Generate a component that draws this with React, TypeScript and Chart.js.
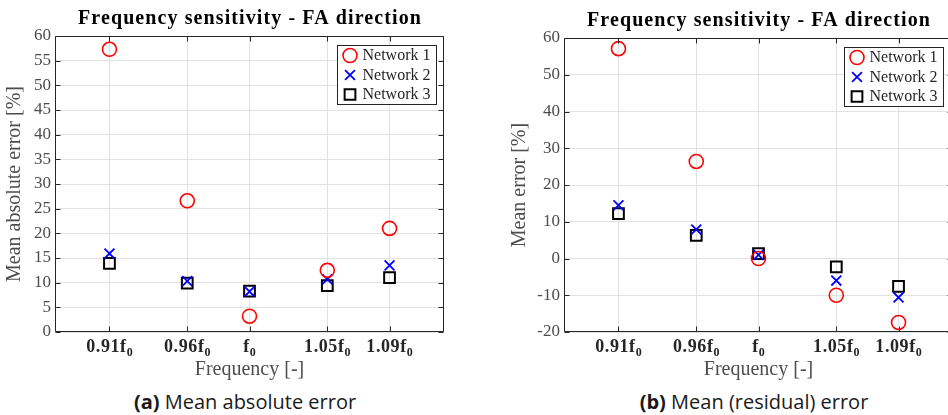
import React, { useEffect, useRef } from 'react';
import { Chart, registerables } from 'chart.js';

Chart.register(...registerables);

// ---------- data ----------
const freqs = [0.91, 0.96, 1.0, 1.05, 1.09];
const freqPrefixes = ['0.91', '0.96', '', '1.05', '1.09'];
const seriesNames = ['Network 1', 'Network 2', 'Network 3'];

const maeNet1 = [57.3, 26.6, 3.2, 12.5, 21.0];
const maeNet2 = [15.9, 10.3, 8.2, 10.7, 13.5];
const maeNet3 = [13.9, 9.9, 8.3, 9.4, 11.0];

const meNet1 = [57.1, 26.4, 0.0, -10.0, -17.4];
const meNet2 = [14.5, 7.9, 1.0, -6.0, -10.6];
const meNet3 = [12.2, 6.3, 1.3, -2.3, -7.6];

const maeYRange = [0, 60];
const maeYStep = 5;
const meYRange = [-20, 60];
const meYStep = 10;
const xRange = [0.875, 1.125];

const chartTitle = 'Frequency sensitivity - FA direction';
const xTitle = 'Frequency [-]';

// ---------- styles ----------
const SERIF = '"Liberation Serif", "Times New Roman", serif';
const SANS = '"Open Sans", "Noto Sans", sans-serif';
const GRID = '#e2e2e2';
const AXIS = '#262626';
const TXT = '#4d4d4d';

const markerStyles = [
  { pointStyle: 'circle', color: '#ff0000', radius: 7, width: 1.6 },
  { pointStyle: 'crossRot', color: '#0000ff', radius: 7, width: 1.8 },
  { pointStyle: 'rect', color: '#000000', radius: 7.6, width: 2 },
];

function drawMarker(ctx: CanvasRenderingContext2D, style: any, x: number, y: number) {
  ctx.save();
  ctx.strokeStyle = style.color;
  ctx.lineWidth = style.width;
  ctx.beginPath();
  if (style.pointStyle === 'circle') {
    ctx.arc(x, y, style.radius, 0, Math.PI * 2);
  } else if (style.pointStyle === 'crossRot') {
    const o = style.radius * Math.SQRT1_2;
    ctx.moveTo(x - o, y - o);
    ctx.lineTo(x + o, y + o);
    ctx.moveTo(x - o, y + o);
    ctx.lineTo(x + o, y - o);
  } else {
    const s = style.radius * Math.SQRT1_2;
    ctx.rect(x - s, y - s, 2 * s, 2 * s);
  }
  ctx.stroke();
  ctx.restore();
}

const decorPlugin = {
  id: 'decor',
  afterDraw(chart: any) {
    const { ctx, chartArea: a, scales } = chart;
    const opts = chart.options.plugins.decor;
    const L = Math.round(a.left) + 0.5;
    const R = Math.round(a.right) - 0.5;
    const T = Math.round(a.top) + 0.5;
    const B = Math.round(a.bottom) - 0.5;
    ctx.save();

    // axes box
    ctx.strokeStyle = AXIS;
    ctx.lineWidth = 1;
    ctx.beginPath();
    ctx.moveTo(L, T);
    ctx.lineTo(R, T);
    ctx.lineTo(R, B);
    ctx.lineTo(L, B);
    ctx.closePath();
    ctx.stroke();

    // inward ticks
    const tl = 5;
    ctx.beginPath();
    freqs.forEach((v) => {
      const px = Math.round(scales.x.getPixelForValue(v)) + 0.5;
      ctx.moveTo(px, B);
      ctx.lineTo(px, B - tl);
      ctx.moveTo(px, T);
      ctx.lineTo(px, T + tl);
    });
    scales.y.ticks.forEach((t: any) => {
      const py = Math.round(scales.y.getPixelForValue(t.value)) + 0.5;
      ctx.moveTo(L, py);
      ctx.lineTo(L + tl, py);
      ctx.moveTo(R, py);
      ctx.lineTo(R - tl, py);
    });
    ctx.stroke();

    // x tick labels with subscript
    ctx.fillStyle = '#262626';
    ctx.textBaseline = 'alphabetic';
    ctx.textAlign = 'left';
    const mainFont = `bold 18px ${SERIF}`;
    const subFont = `bold 12px ${SERIF}`;
    freqs.forEach((v, i) => {
      const px = scales.x.getPixelForValue(v);
      const main = freqPrefixes[i] + 'f';
      ctx.font = mainFont;
      (ctx as any).letterSpacing = '0.6px';
      const w1 = ctx.measureText(main).width;
      ctx.font = subFont;
      (ctx as any).letterSpacing = '0px';
      const w2 = ctx.measureText('0').width;
      const start = px - (w1 + w2) / 2;
      const base = a.bottom + 20;
      ctx.font = mainFont;
      (ctx as any).letterSpacing = '0.6px';
      ctx.fillText(main, start, base);
      ctx.font = subFont;
      (ctx as any).letterSpacing = '0px';
      ctx.fillText('0', start + w1, base + 4);
    });

    // title
    ctx.fillStyle = '#000000';
    ctx.font = `bold 20px ${SERIF}`;
    (ctx as any).letterSpacing = '1.1px';
    ctx.textAlign = 'center';
    ctx.textBaseline = 'middle';
    ctx.fillText(chartTitle, (a.left + a.right) / 2 + 0.5, a.top - 17);
    (ctx as any).letterSpacing = '0px';

    // legend
    ctx.font = `16px ${SERIF}`;
    ctx.textAlign = 'left';
    ctx.textBaseline = 'middle';
    const maxW = Math.max(...seriesNames.map((n) => ctx.measureText(n).width));
    const boxW = Math.round(25 + maxW + 6);
    const boxH = 59;
    const bx = Math.round(a.right - opts.legendInset - boxW) + 0.5;
    const by = Math.round(a.top + 9) + 0.5;
    ctx.fillStyle = '#ffffff';
    ctx.fillRect(bx, by, boxW, boxH);
    ctx.strokeStyle = AXIS;
    ctx.lineWidth = 1;
    ctx.strokeRect(bx, by, boxW, boxH);
    seriesNames.forEach((n, i) => {
      const cy = by + 10 + i * 19.5;
      drawMarker(ctx, markerStyles[i], bx + 12.5, cy);
      ctx.fillStyle = '#262626';
      ctx.fillText(n, bx + 25, cy + 0.5);
    });

    ctx.restore();
  },
};

function makeDatasets(series: number[][]) {
  return series.map((vals, i) => ({
    label: seriesNames[i],
    data: freqs.map((x, j) => ({ x, y: vals[j] })),
    pointStyle: markerStyles[i].pointStyle,
    pointRadius: markerStyles[i].radius,
    pointHoverRadius: markerStyles[i].radius,
    borderColor: markerStyles[i].color,
    backgroundColor: 'rgba(0,0,0,0)',
    pointBorderWidth: markerStyles[i].width,
    borderWidth: markerStyles[i].width,
    showLine: false,
  }));
}

interface PanelProps {
  width: number;
  height: number;
  series: number[][];
  yRange: number[];
  yStep: number;
  yTitle: string;
  yAxisWidth: number;
  yTitlePad: number;
  padRight: number;
  padTop: number;
  legendInset: number;
}

function Panel(p: PanelProps) {
  const ref = useRef<HTMLCanvasElement | null>(null);
  useEffect(() => {
    if (!ref.current) return;
    const chart = new Chart(ref.current, {
      type: 'scatter',
      data: { datasets: makeDatasets(p.series) as any },
      options: {
        responsive: false,
        animation: false,
        devicePixelRatio: 1,
        layout: { padding: { left: 0, right: p.padRight, top: p.padTop, bottom: 0 } },
        plugins: {
          legend: { display: false },
          tooltip: { enabled: false },
          title: { display: false },
          decor: { legendInset: p.legendInset },
        } as any,
        scales: {
          x: {
            type: 'linear',
            min: xRange[0],
            max: xRange[1],
            afterBuildTicks: (s: any) => {
              s.ticks = freqs.map((v) => ({ value: v }));
            },
            afterFit: (s: any) => {
              s.height = 50;
            },
            ticks: { display: false },
            grid: { color: GRID, drawTicks: false, lineWidth: 1 },
            border: { display: false },
            title: {
              display: true,
              text: xTitle,
              color: TXT,
              font: { family: SERIF, size: 20 },
              padding: { top: 0, bottom: 0 },
            },
          },
          y: {
            type: 'linear',
            min: p.yRange[0],
            max: p.yRange[1],
            afterFit: (s: any) => {
              s.width = p.yAxisWidth;
            },
            ticks: {
              stepSize: p.yStep,
              color: TXT,
              padding: 4,
              font: { family: SERIF, size: 17 },
            },
            grid: { color: GRID, drawTicks: false, lineWidth: 1 },
            border: { display: false },
            title: {
              display: true,
              text: p.yTitle,
              color: TXT,
              font: { family: SERIF, size: 20 },
              padding: { top: p.yTitlePad, bottom: 0 },
            },
          },
        },
      },
      plugins: [decorPlugin as any],
    });
    return () => chart.destroy();
  }, []);
  return <canvas ref={ref} width={p.width} height={p.height} style={{ display: 'block' }} />;
}

const captionStyle: React.CSSProperties = {
  position: 'absolute',
  top: 389,
  width: 300,
  textAlign: 'center',
  fontFamily: SANS,
  fontSize: 20,
  lineHeight: '25px',
  color: '#1a1a1a',
  whiteSpace: 'nowrap',
};

export default function App() {
  return (
    <div
      style={{
        position: 'fixed',
        left: 0,
        top: 0,
        width: 948,
        height: 415,
        overflow: 'hidden',
        background: '#ffffff',
      }}
    >
      <div style={{ position: 'absolute', left: 0, top: 0 }}>
        <Panel
          width={474}
          height={382}
          series={[maeNet1, maeNet2, maeNet3]}
          yRange={maeYRange}
          yStep={maeYStep}
          yTitle="Mean absolute error [%]"
          yAxisWidth={55}
          yTitlePad={3}
          padRight={30}
          padTop={36}
          legendInset={8}
        />
      </div>
      <div style={{ position: 'absolute', left: 474, top: 0 }}>
        <Panel
          width={500}
          height={382}
          series={[meNet1, meNet2, meNet3]}
          yRange={meYRange}
          yStep={meYStep}
          yTitle="Mean error [%]"
          yAxisWidth={90}
          yTitlePad={34}
          padRight={21}
          padTop={38}
          legendInset={10}
        />
      </div>
      <div style={{ ...captionStyle, left: 95 }}>
        <b>(a)</b> Mean absolute error
      </div>
      <div style={{ ...captionStyle, left: 604 }}>
        <b>(b)</b> Mean (residual) error
      </div>
    </div>
  );
}
